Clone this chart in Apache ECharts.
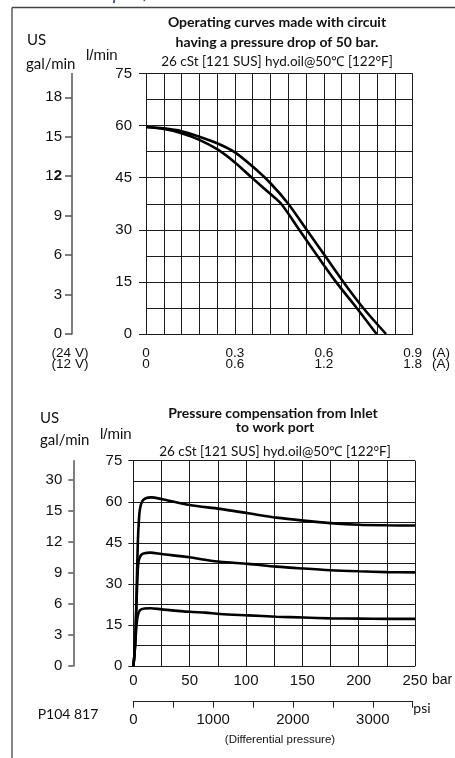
<!DOCTYPE html>
<html>
<head>
<meta charset="utf-8">
<script src="https://cdn.jsdelivr.net/npm/echarts@6/dist/echarts.min.js"></script>
<style>
html, body { margin: 0; padding: 0; background: #fff; }
#chart { width: 455px; height: 758px; }
</style>
</head>
<body>
<div id="chart"></div>
<script>
// ---- top chart: flow vs. coil current ----
var galTicks = [0, 3, 6, 9, 12, 15, 18];
var curveOuter = [[0, 59.6], [0.06, 59.2], [0.12, 58.4], [0.18, 56.8], [0.24, 54.9], [0.30, 52.3], [0.36, 48.2],
    [0.42, 43.4], [0.48, 37.5], [0.542, 30], [0.604, 22.5], [0.666, 15], [0.733, 7.5], [0.81, 0]];
var curveInner = [[0, 59.6], [0.06, 59.0], [0.12, 57.8], [0.18, 55.9], [0.24, 53.2], [0.30, 49.4], [0.36, 44.8],
    [0.42, 40.3], [0.456, 37.5], [0.517, 30], [0.578, 22.5], [0.641, 15], [0.711, 7.5], [0.778, 0]];

// ---- bottom chart: pressure compensation ----
var psiLabels = [0, 1000, 2000, 3000];
var galLabelsBottom = ['0', '3', '6', '9', '12', '15', '30'];
var comp60 = [[0, 0], [1, 4], [2, 12], [3, 28], [4, 45], [5, 53.5], [6, 57.5], [8, 60.2], [11, 61.3], [16, 61.6],
    [25, 61.0], [50, 58.8], [77, 57.4], [102, 55.8], [127, 54.2], [151, 53.1], [175, 52.2], [200, 51.6], [225, 51.4], [250, 51.3]];
var comp40 = [[0, 0], [1, 4], [2, 12], [3, 25], [4, 35], [5, 38.8], [7, 40.6], [10, 41.2], [15, 41.4],
    [25, 40.9], [50, 39.7], [64, 38.8], [77, 38.1], [102, 37.3], [127, 36.3], [151, 35.6], [175, 35.0], [200, 34.6], [225, 34.3], [250, 34.2]];
var comp20 = [[0, 0], [1, 4], [2, 10], [3, 15.5], [4, 18.5], [6, 20.4], [10, 21.0], [15, 21.1],
    [25, 20.7], [50, 19.8], [64, 19.5], [77, 19.0], [102, 18.5], [127, 18.0], [151, 17.7], [175, 17.4], [200, 17.3], [225, 17.2], [250, 17.2]];

var LPM_PER_GAL = 3.785411784;

var NUM_FONT = '"Liberation Sans", Arial, sans-serif';
var TXT_FONT = 'Lato, "Noto Sans", sans-serif';
var GRID_LINE = { color: '#1c1c1c', width: 1 };
var GAL_LINE = { color: '#555', width: 1.5 };

function numLabel(extra) {
    var o = { color: '#111', fontFamily: NUM_FONT, fontSize: 15, rotate: 0, hideOverlap: false };
    for (var k in extra) o[k] = extra[k];
    return o;
}

// grid axis: labels/ticks every `step`, grid lines every step/minor
function gridAxis(gridIndex, max, step, minor, labelOpt, tickLen) {
    return {
        gridIndex: gridIndex, type: 'value', min: 0, max: max, interval: step,
        axisLine: { show: true, onZero: false, lineStyle: GRID_LINE },
        axisTick: { show: tickLen > 0, length: tickLen, lineStyle: GRID_LINE },
        minorTick: { show: false, splitNumber: minor },
        axisLabel: numLabel(labelOpt),
        splitLine: { show: true, lineStyle: GRID_LINE },
        minorSplitLine: { show: true, lineStyle: GRID_LINE }
    };
}

function galAxis(gridIndex, offset, tickLen, labelOpt) {
    return {
        gridIndex: gridIndex, type: 'value', position: 'left', offset: offset,
        min: 0, max: 75 / LPM_PER_GAL, interval: 3,
        axisLine: { show: true, onZero: false, lineStyle: GAL_LINE },
        axisTick: { show: true, length: tickLen, customValues: galTicks, lineStyle: GAL_LINE },
        axisLabel: numLabel(labelOpt),
        splitLine: { show: false }
    };
}

function curve(data, xi, yi) {
    return {
        type: 'line', xAxisIndex: xi, yAxisIndex: yi, data: data,
        smooth: 0.3, showSymbol: false, silent: true,
        lineStyle: { color: '#000', width: 2.6 }
    };
}

function txt(text, x, y, opt) {
    var s = { text: text, x: x, y: y, fill: '#111', font: '15px ' + TXT_FONT, align: 'left', verticalAlign: 'middle' };
    for (var k in opt) s[k] = opt[k];
    return { type: 'text', style: s, silent: true, z: 10 };
}

var chart = echarts.init(document.getElementById('chart'));

var option = {
    animation: false,
    grid: [
        { left: 146, top: 73.5, width: 266.7, height: 260.5 },
        { left: 133.3, top: 460.7, width: 281.7, height: 205.3 },
        { left: 133.3, top: 690, width: 279.4, height: 11.7 }
    ],
    xAxis: [
        gridAxis(0, 0.9, 0.3, 5, { margin: 12, fontSize: 13.5 }, 0),
        {
            gridIndex: 0, type: 'value', min: 0, max: 1.8, interval: 0.6, position: 'bottom', offset: 11.5,
            axisLine: { show: false, onZero: false }, axisTick: { show: false }, splitLine: { show: false },
            axisLabel: numLabel({ margin: 12, fontSize: 13.5 })
        },
        gridAxis(1, 250, 50, 2, { margin: 7 }, 0),
        {
            gridIndex: 2, type: 'value', min: 0, max: 3500, interval: 500,
            axisLine: { show: true, onZero: false, lineStyle: { color: '#222', width: 1 } },
            axisTick: { show: true, length: 6, lineStyle: { color: '#222', width: 1 } },
            axisLabel: numLabel({
                margin: 11,
                formatter: function (v) { return psiLabels.indexOf(v) >= 0 ? String(v) : ''; }
            }),
            splitLine: { show: false }
        }
    ],
    yAxis: [
        gridAxis(0, 75, 15, 2, { margin: 14 }, 7),
        galAxis(0, 74, 7, {
            customValues: galTicks, margin: 10,
            formatter: function (v) { return v === 12 ? '1{b|2}' : String(v); },
            rich: { b: { fontWeight: 'bold', fontFamily: NUM_FONT, fontSize: 15, color: '#111' } }
        }),
        gridAxis(1, 75, 15, 2, { margin: 11 }, 5),
        galAxis(1, 60, 5, {
            customValues: galTicks, margin: 11,
            formatter: function (v) { return galLabelsBottom[galTicks.indexOf(v)]; }
        }),
        { gridIndex: 2, type: 'value', show: false, min: 0, max: 1 }
    ],
    series: [
        curve(curveOuter, 0, 0),
        curve(curveInner, 0, 0),
        curve(comp60, 2, 2),
        curve(comp40, 2, 2),
        curve(comp20, 2, 2)
    ],
    graphic: [
        // page frame + cut header
        { type: 'line', shape: { x1: 12, y1: 7.5, x2: 455, y2: 7.5 }, style: { stroke: '#444', lineWidth: 1.3 }, silent: true },
        { type: 'line', shape: { x1: 12, y1: 7.5, x2: 12, y2: 758 }, style: { stroke: '#444', lineWidth: 1.3 }, silent: true },
        txt('Control performance', 40, -19, { font: 'italic 22px ' + TXT_FONT, fill: '#3c55a5', verticalAlign: 'top' }),

        // top chart texts
        txt('Operating curves made with circuit', 277, 22, { font: 'bold 14px ' + TXT_FONT, align: 'center' }),
        txt('having a pressure drop of 50 bar.', 277, 42, { font: 'bold 14px ' + TXT_FONT, align: 'center' }),
        txt('26 cSt [121 SUS] hyd.oil@50\u2103 [122\u00b0F]', 277, 62, { font: '13.5px ' + TXT_FONT, align: 'center' }),
        txt('US', 27, 40),
        txt('gal/min', 26, 64),
        txt('l/min', 86, 56, { font: '15px ' + NUM_FONT }),
        txt('(24 V)', 70, 353, { font: '13.5px ' + NUM_FONT, align: 'center' }),
        txt('(12 V)', 70, 364.5, { font: '13.5px ' + NUM_FONT, align: 'center' }),
        txt('(A)', 441, 353, { font: '13.5px ' + NUM_FONT, align: 'center' }),
        txt('(A)', 441, 364.5, { font: '13.5px ' + NUM_FONT, align: 'center' }),

        // bottom chart texts
        txt('Pressure compensation from Inlet', 273, 413, { font: 'bold 14px ' + TXT_FONT, align: 'center' }),
        txt('to work port', 275, 427, { font: 'bold 14px ' + TXT_FONT, align: 'center' }),
        txt('26 cSt [121 SUS] hyd.oil@50\u2103 [122\u00b0F]', 275, 452, { font: '13.5px ' + TXT_FONT, align: 'center' }),
        txt('US', 40, 418),
        txt('gal/min', 40, 440),
        txt('l/min', 100, 435, { font: '15px ' + NUM_FONT }),
        txt('bar', 442, 680, { font: '14px ' + NUM_FONT, align: 'center' }),
        txt('psi', 422, 708, { font: '14px ' + TXT_FONT, align: 'center' }),
        txt('P104 817', 68, 714, { font: '14px ' + TXT_FONT, align: 'center' }),
        txt('(Differential pressure)', 280, 740, { font: '11.5px ' + NUM_FONT, align: 'center' })
    ]
};

chart.setOption(option);
window.onresize = function () { chart.resize(); };
</script>
</body>
</html>
